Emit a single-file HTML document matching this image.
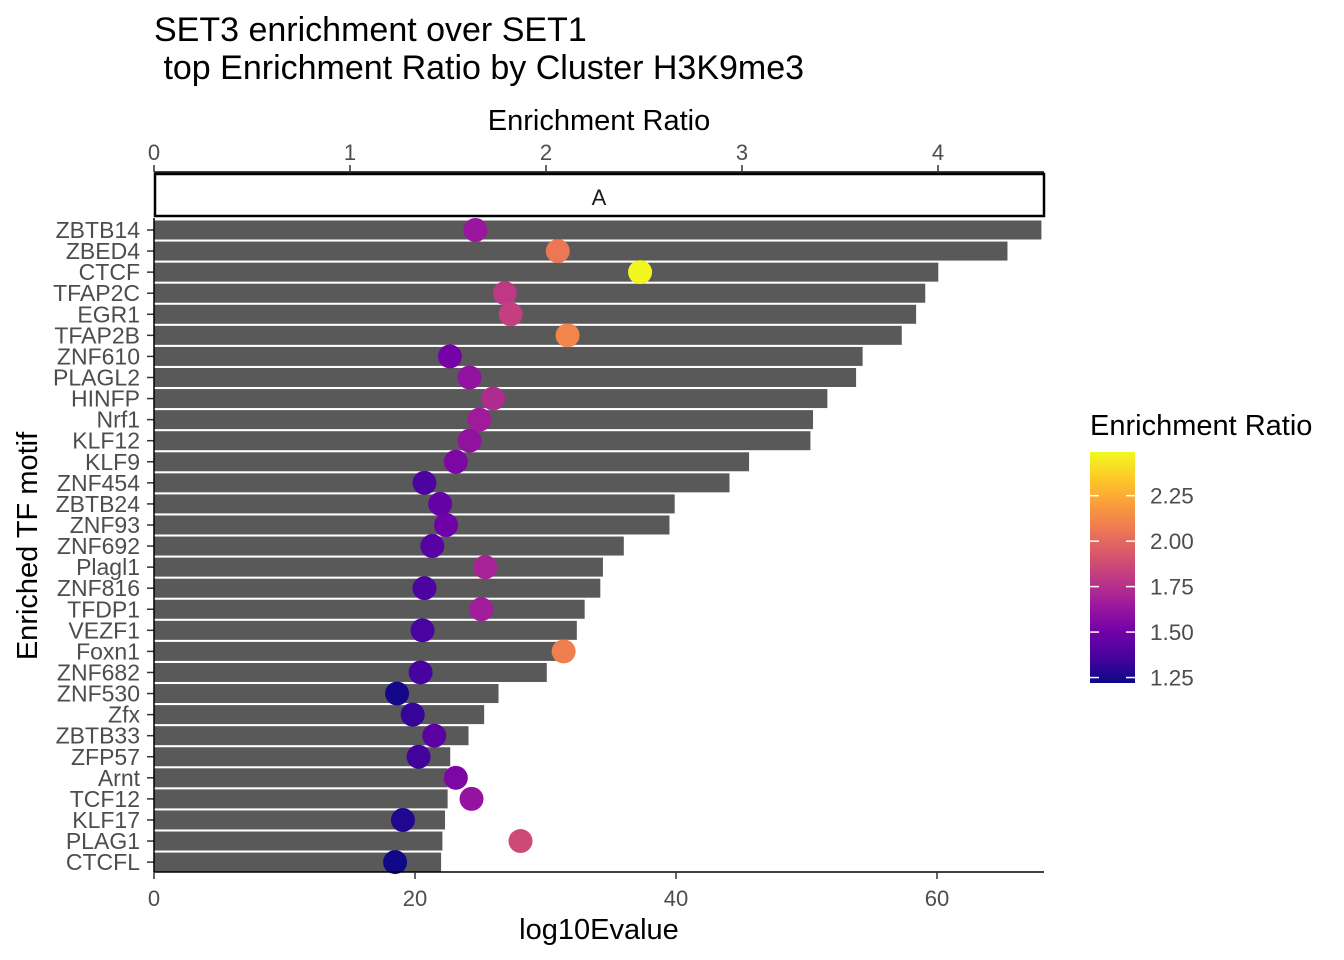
<!DOCTYPE html>
<html><head><meta charset="utf-8"><style>
html,body{margin:0;padding:0;background:#fff;}
svg{display:block;font-family:"Liberation Sans",Arial,sans-serif;}
</style></head><body>
<svg id="chart" width="1344" height="960" viewBox="0 0 1344 960" xmlns="http://www.w3.org/2000/svg">
<defs>
<linearGradient id="plasma" x1="0" y1="1" x2="0" y2="0">
<stop offset="0" stop-color="#0d0887"/><stop offset="0.111" stop-color="#46039f"/><stop offset="0.222" stop-color="#7201a8"/><stop offset="0.333" stop-color="#9c179e"/><stop offset="0.444" stop-color="#bd3786"/><stop offset="0.556" stop-color="#d8576b"/><stop offset="0.667" stop-color="#ed7953"/><stop offset="0.778" stop-color="#fb9f3a"/><stop offset="0.889" stop-color="#fdca26"/><stop offset="1" stop-color="#f0f921"/>
</linearGradient>
</defs>
<text x="154" y="41" font-size="34" fill="#000">SET3 enrichment over SET1</text>
<text x="154" y="79" font-size="34" fill="#000" xml:space="preserve"> top Enrichment Ratio by Cluster H3K9me3</text>
<text x="599" y="130" font-size="29" text-anchor="middle">Enrichment Ratio</text>
<text x="599" y="939" font-size="29" text-anchor="middle">log10Evalue</text>
<text transform="translate(37,546) rotate(-90)" font-size="29" text-anchor="middle">Enriched TF motif</text>
<rect x="155" y="174" width="889" height="42" fill="#fff" stroke="#000" stroke-width="2.5"/>
<text x="599" y="205" font-size="22" text-anchor="middle" fill="#1a1a1a">A</text>
<g id="bars"></g><g id="dots"></g><g id="axes"></g><g id="legend"></g>
</svg>
<script>
const motifs=["ZBTB14","ZBED4","CTCF","TFAP2C","EGR1","TFAP2B","ZNF610","PLAGL2","HINFP","Nrf1","KLF12","KLF9","ZNF454","ZBTB24","ZNF93","ZNF692","Plagl1","ZNF816","TFDP1","VEZF1","Foxn1","ZNF682","ZNF530","Zfx","ZBTB33","ZFP57","Arnt","TCF12","KLF17","PLAG1","CTCFL"];
const log10Evalue=[68.0,65.4,60.1,59.1,58.4,57.3,54.3,53.8,51.6,50.5,50.3,45.6,44.1,39.9,39.5,36.0,34.4,34.2,33.0,32.4,31.1,30.1,26.4,25.3,24.1,22.7,22.5,22.5,22.3,22.1,22.0];
const enrichRatio=[1.64,2.06,2.48,1.79,1.82,2.11,1.51,1.61,1.73,1.66,1.61,1.54,1.38,1.46,1.49,1.42,1.69,1.38,1.67,1.37,2.09,1.36,1.24,1.32,1.43,1.35,1.54,1.62,1.27,1.87,1.23];
const bottomTicks=[0,20,40,60];
const topTicks=[0,1,2,3,4];
const legendTicks=[1.25,1.50,1.75,2.00,2.25];

const NS="http://www.w3.org/2000/svg";
const x0=154, xR=1044;
const xE=v=>x0+v*13.05;
const xR2=v=>x0+v*196;
const yRow=i=>230+i*21.07;
const cMin=1.22,cMax=2.49;
const yLeg=v=>683-(v-cMin)/(cMax-cMin)*231;
const stops=["#0d0887","#46039f","#7201a8","#9c179e","#bd3786","#d8576b","#ed7953","#fb9f3a","#fdca26","#f0f921"];
function hex(h){return [1,3,5].map(i=>parseInt(h.substr(i,2),16));}
function plasma(v){let t=Math.max(0,Math.min(1,(v-cMin)/(cMax-cMin)))*(stops.length-1);let i=Math.min(Math.floor(t),stops.length-2),f=t-i;const a=hex(stops[i]),b=hex(stops[i+1]);return "rgb("+a.map((c,k)=>Math.round(c+(b[k]-c)*f)).join(",")+")";}
function mk(tag,attrs,parent,txt){const e=document.createElementNS(NS,tag);for(const k in attrs)e.setAttribute(k,attrs[k]);if(txt!==undefined)e.textContent=txt;parent.appendChild(e);return e;}
const gB=document.getElementById("bars"),gD=document.getElementById("dots"),gA=document.getElementById("axes"),gL=document.getElementById("legend");
motifs.forEach((m,i)=>{
 const r=mk("rect",{x:x0,y:yRow(i)-9.5,width:xE(log10Evalue[i])-x0,height:19,fill:"#595959"},gB);
 
 
 const c=mk("circle",{cx:xR2(enrichRatio[i]),cy:yRow(i),r:12,fill:plasma(enrichRatio[i])},gD);
 
 
 const t=mk("text",{x:140,y:yRow(i)+8,"font-size":23,"text-anchor":"end",fill:"#4d4d4d"},gA,m);
 
 
 mk("line",{x1:147,x2:154,y1:yRow(i),y2:yRow(i),stroke:"#333","stroke-width":1.5},gA);
});
const bl=mk("line",{x1:x0,x2:xR,y1:872,y2:872,stroke:"#000","stroke-width":1.5},gA);


const tl=mk("line",{x1:x0,x2:xR,y1:172,y2:172,stroke:"#000","stroke-width":1.5},gA);


const yl=mk("line",{x1:x0,x2:x0,y1:218,y2:872,stroke:"#000","stroke-width":1.5},gA);


bottomTicks.forEach(v=>{
 mk("line",{x1:xE(v),x2:xE(v),y1:872,y2:879,stroke:"#333","stroke-width":1.5},gA);
 const t=mk("text",{x:xE(v),y:906,"font-size":22,"text-anchor":"middle",fill:"#4d4d4d"},gA,String(v));
 
 
});
topTicks.forEach(v=>{
 mk("line",{x1:xR2(v),x2:xR2(v),y1:165,y2:172,stroke:"#333","stroke-width":1.5},gA);
 const t=mk("text",{x:xR2(v),y:160,"font-size":22,"text-anchor":"middle",fill:"#4d4d4d"},gA,String(v));
 
 
});
const lt=mk("text",{x:1090,y:435,"font-size":29,fill:"#000"},gL,"Enrichment Ratio");


const cb=mk("rect",{x:1090,y:452,width:45,height:231,fill:"url(#plasma)"},gL);


legendTicks.forEach(v=>{
 const y=yLeg(v);
 mk("line",{x1:1090,x2:1099,y1:y,y2:y,stroke:"#fff","stroke-width":1.5},gL);
 mk("line",{x1:1126,x2:1135,y1:y,y2:y,stroke:"#fff","stroke-width":1.5},gL);
 const t=mk("text",{x:1150,y:y+8,"font-size":22.5,fill:"#4d4d4d"},gL,v.toFixed(2));
 
 
});
</script>
</body></html>
